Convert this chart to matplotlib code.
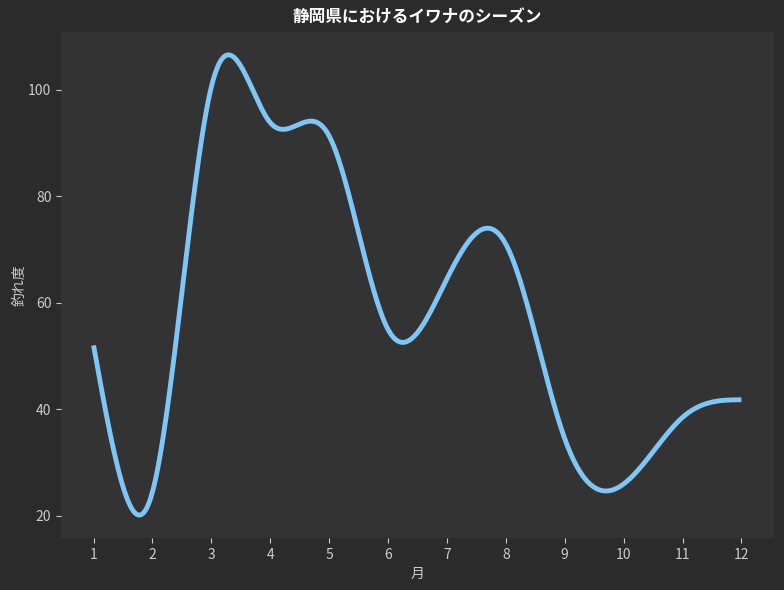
import matplotlib
matplotlib.use("Agg")
import matplotlib.pyplot as plt
import numpy as np

plt.rcParams["font.family"] = ["Noto Sans CJK JP", "DejaVu Sans"]

months = [1, 2, 3, 4, 5, 6, 7, 8, 9, 10, 11, 12]
catch_rate = [52, 24.5, 100.5, 93.8, 91.3, 55, 64.5, 71, 34.5, 26, 38.5, 41.8]


def natural_spline(x, y, xs):
    # natural cubic spline through the monthly points (uniform spacing)
    x = np.asarray(x, float)
    y = np.asarray(y, float)
    n = len(x)
    h = x[1] - x[0]
    A = np.zeros((n, n))
    b = np.zeros(n)
    A[0, 0] = 1
    A[-1, -1] = 1
    for i in range(1, n - 1):
        A[i, i - 1:i + 2] = [h, 4 * h, h]
        b[i] = 6 / h * (y[i + 1] - 2 * y[i] + y[i - 1])
    M = np.linalg.solve(A, b)
    idx = np.clip(((xs - x[0]) // h).astype(int), 0, n - 2)
    a = x[idx + 1] - xs
    c = xs - x[idx]
    return (M[idx] * a ** 3 / (6 * h) + M[idx + 1] * c ** 3 / (6 * h)
            + (y[idx] / h - M[idx] * h / 6) * a
            + (y[idx + 1] / h - M[idx + 1] * h / 6) * c)


xs = np.linspace(months[0], months[-1], 600)
ys = natural_spline(months, catch_rate, xs)

fig = plt.figure(figsize=(7.84, 5.9), dpi=100, facecolor="#2b2b2b")
ax = fig.add_axes([0.078, 0.088, 0.909, 0.858], facecolor="#333333")
ax.plot(xs, ys, color="#7ec6f6", linewidth=3.5, solid_capstyle="butt")

ax.set_xticks(months)
ax.set_yticks([20, 40, 60, 80, 100])
for s in ax.spines.values():
    s.set_visible(False)
ax.tick_params(colors="#cccccc", labelsize=10, length=3.5)
ax.set_xlabel("月", color="#cccccc", fontsize=10)
ax.set_ylabel("釣れ度", color="#cccccc", fontsize=10, labelpad=1)
ax.set_title("静岡県におけるイワナのシーズン", color="white", fontsize=12,
             fontweight="bold", pad=7)

fig.savefig("out.png", dpi=100, facecolor=fig.get_facecolor())
